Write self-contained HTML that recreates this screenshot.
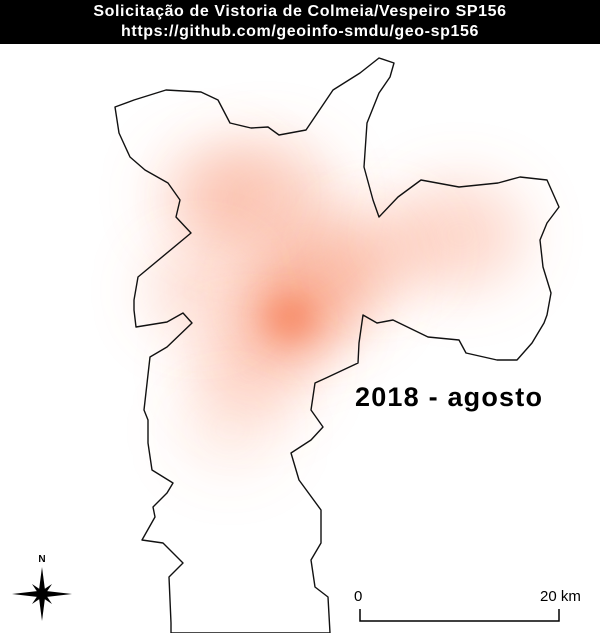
<!DOCTYPE html>
<html><head><meta charset="utf-8"><style>
html,body{margin:0;padding:0;background:#fff}
#wrap{position:relative;width:600px;height:633px;overflow:hidden;font-family:"Liberation Sans",sans-serif}
#hdr{position:absolute;left:0;top:0;width:600px;height:44px;background:#000;color:#fff;text-align:center;font-weight:bold;font-size:16px;letter-spacing:0.6px;line-height:20px;padding-top:2px;box-sizing:border-box}
</style></head><body>
<div id="wrap">
<div id="hdr">
<div>Solicitação de Vistoria de Colmeia/Vespeiro SP156</div>
<div>https://github.com/geoinfo-smdu/geo-sp156</div>
</div>
<svg width="600" height="633" style="position:absolute;left:0;top:0">
<defs>
<filter id="bl" x="-100%" y="-100%" width="300%" height="300%"><feGaussianBlur stdDeviation="28"/></filter>
<filter id="bl2" x="-100%" y="-100%" width="300%" height="300%"><feGaussianBlur stdDeviation="14"/></filter>
</defs>
<g id="heat"></g>
<polygon fill="none" stroke="#111" stroke-width="1.4" stroke-linejoin="round"
points="115,107 134,100 166,90 201,92 218,100 230,123 251,128 268,127 279,135 306,130 333,90 360,73 379,58 394,63 390,77 379,93 367,123 364,167 373,200 379,217 398,197 421,180 459,187 498,183 520,177 547,180 559,207 547,223 540,240 543,267 551,293 547,315 544,323 532,343 517,360 497,360 466,353 459,340 428,337 393,320 377,323 363,315 359,343 358,363 326,378 315,383 311,410 323,427 311,440 291,453 299,480 321,510 321,543 311,560 315,587 328,597 330,633 171,633 171,623 169,577 183,563 163,543 142,540 155,517 153,507 167,493 173,483 152,470 148,443 148,420 144,410 150,357 167,347 192,323 183,313 167,322 136,327 134,310 134,300 138,277 191,233 176,217 180,200 168,183 145,170 130,157 119,133"/>
<text x="355" y="406" font-size="27" font-weight="bold" letter-spacing="1.2" fill="#000">2018 - agosto</text>
<g>
<text x="354" y="601" font-size="15" fill="#000">0</text>
<text x="540" y="601" font-size="15" fill="#000">20 km</text>
<polyline points="360,609 360,621 559,621 559,609" fill="none" stroke="#000" stroke-width="1.5"/>
</g>
<g>
<text x="42" y="562" font-size="10" font-weight="bold" text-anchor="middle">N</text>
<polygon points="42,567 45,590 42,594 39,590" fill="#000"/>
<polygon points="42,621 45,598 42,594 39,598" fill="#000"/>
<polygon points="12,594 38,591 42,594 38,597" fill="#000"/>
<polygon points="72,594 46,591 42,594 46,597" fill="#000"/>
<polygon points="32,584 44,592 42,594 40,596" fill="#000"/>
<polygon points="52,584 44,596 42,594 40,592" fill="#000"/>
<polygon points="32,604 40,592 42,594 44,596" fill="#000"/>
<polygon points="52,604 44,592 42,594 40,596" fill="#000"/>
</g>
</svg>
</div>
<script>
// heat hotspots: x, y (px), intensity (0-1), radius
const hotX=[290,320,265,215,460,380,250,230,200];
const hotY=[318,280,200,195,235,250,370,430,290];
const hotI=[0.95,0.6,0.45,0.35,0.4,0.35,0.4,0.15,0.35];
const hotR=[40,55,60,50,55,45,50,45,45];
const g=document.getElementById('heat');
const ns='http://www.w3.org/2000/svg';
for(let i=0;i<hotX.length;i++){
  const c=document.createElementNS(ns,'ellipse');
  
  
  c.setAttribute('cx',hotX[i]);c.setAttribute('cy',hotY[i]);
  c.setAttribute('rx',hotR[i]*1.2);c.setAttribute('ry',hotR[i]);
  c.setAttribute('fill','#f7845f');
  c.setAttribute('fill-opacity',hotI[i]*0.75);
  c.setAttribute('filter','url(#bl)');
  g.appendChild(c);
}
const core=document.createElementNS(ns,'ellipse');


core.setAttribute('cx',hotX[0]);core.setAttribute('cy',hotY[0]);
core.setAttribute('rx',22);core.setAttribute('ry',20);
core.setAttribute('fill','#f7805a');core.setAttribute('fill-opacity',0.7);
core.setAttribute('filter','url(#bl2)');
g.appendChild(core);
</script>
</body></html>
